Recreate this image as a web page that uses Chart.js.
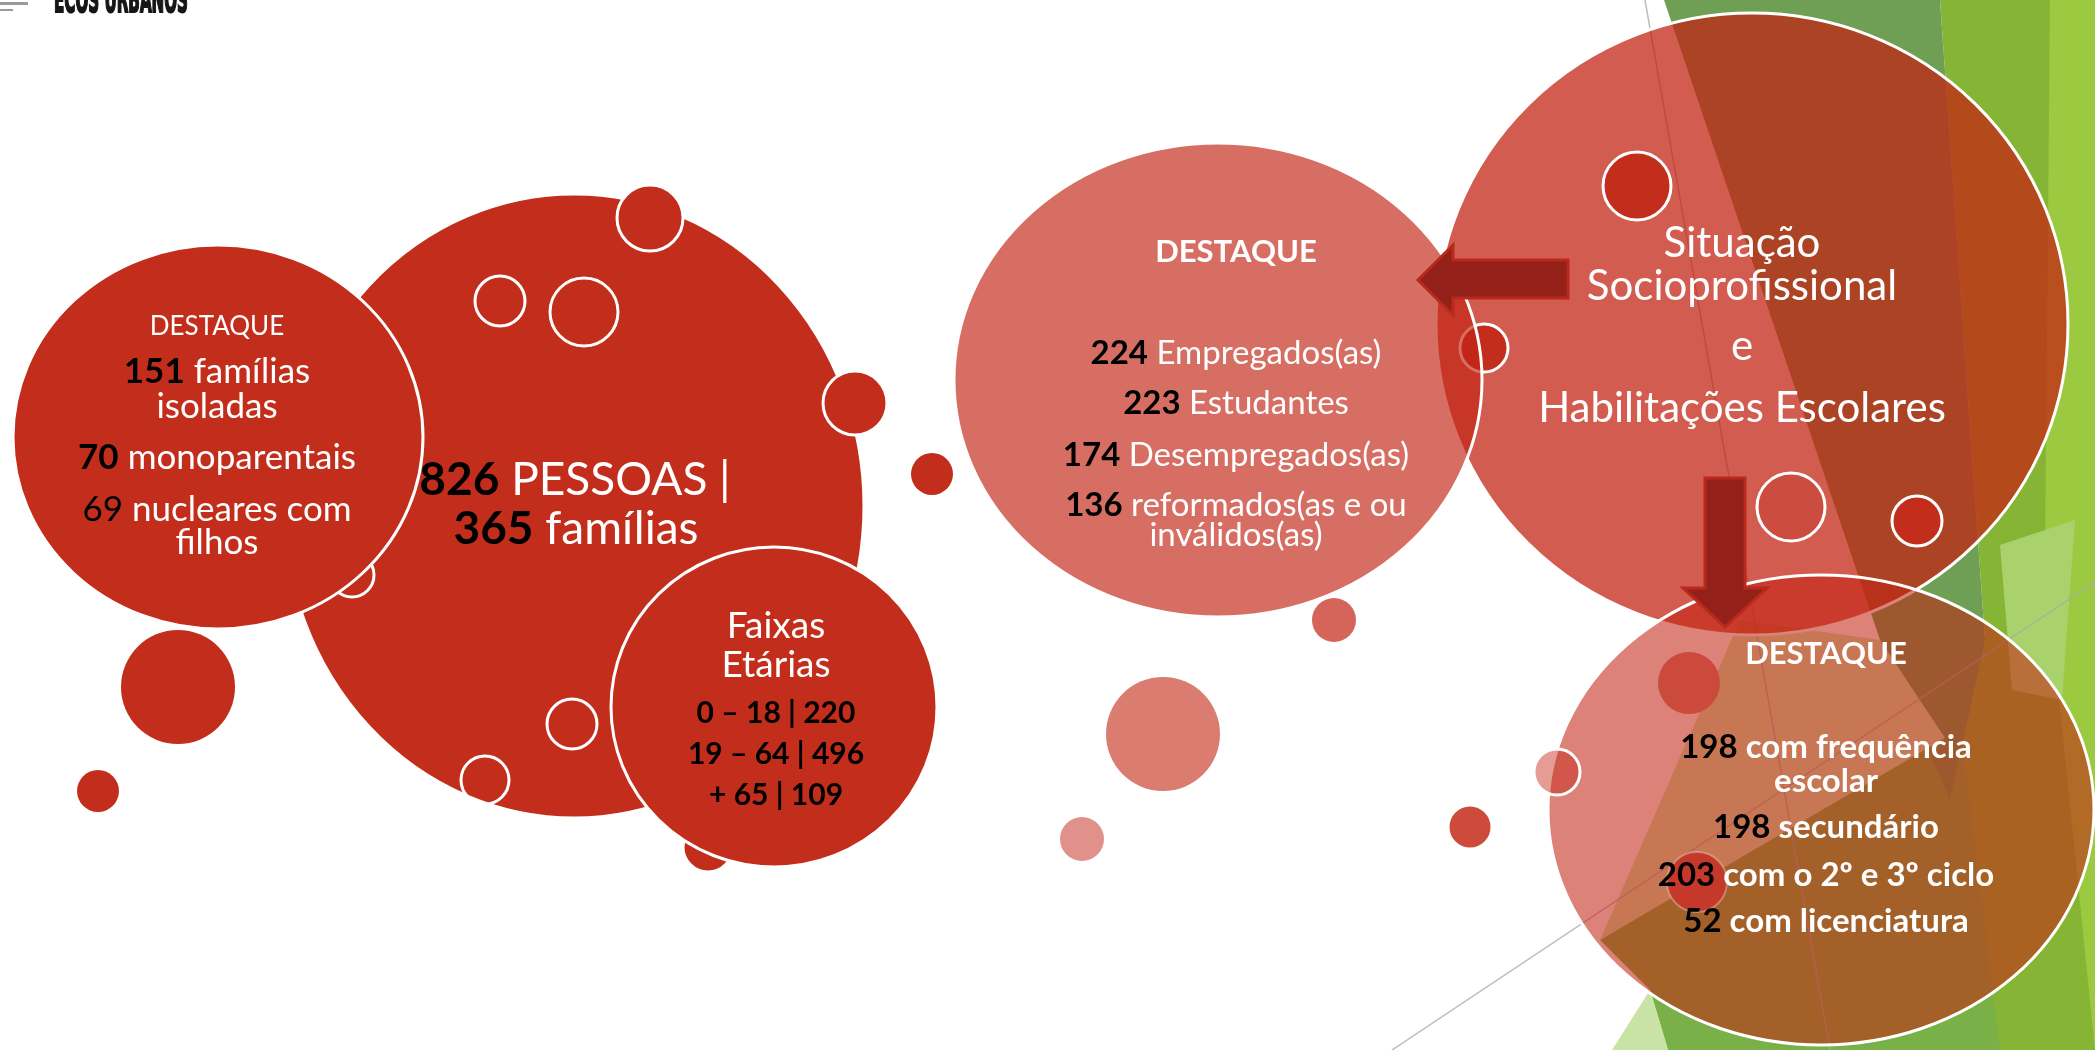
<!DOCTYPE html>
<html lang="pt">
<head>
<meta charset="utf-8">
<title>Ecos Urbanos — Destaques</title>
<script src="https://cdn.jsdelivr.net/npm/chart.js@4.4.1/dist/chart.umd.min.js"></script>
<style>
  html, body { margin: 0; padding: 0; background: #ffffff; overflow: hidden; }
  canvas { display: block; }
</style>
</head>
<body>
<canvas id="painel" width="2095" height="1050"></canvas>
<script>
/* global Chart */

// Dados do diapositivo
const familiasValores = [151, 70, 69];
const familiasRotulos = [['famílias', 'isoladas'], ['monoparentais'], ['nucleares com', 'filhos']];
const totalPessoas    = 826;
const totalFamilias   = 365;
const faixasRotulos   = ['0 – 18', '19 – 64', '+ 65'];
const faixasValores   = [220, 496, 109];
const situacaoValores = [224, 223, 174, 136];
const situacaoRotulos = [['Empregados(as)'], ['Estudantes'], ['Desempregados(as)'], ['reformados(as e ou', 'inválidos(as)']];
const escolarValores  = [198, 198, 203, 52];
const escolarRotulos  = [['com frequência', 'escolar'], ['secundário'], ['com o 2º e 3º ciclo'], ['com licenciatura']];
const tituloCentral   = ['Situação', 'Socioprofissional', 'e', 'Habilitações Escolares'];

const VERMELHO = '#C22E1B';
const BRANCO   = '#ffffff';
const PRETO    = '#000000';
const NADA     = 'rgba(0,0,0,0)';
const FONTE    = "Lato, 'Open Sans', sans-serif";

// Bolhas grandes (elipses), em px do diapositivo
const grandes = {
  pessoas:  { x: 574,  y: 506, r: 290, ry: 312, cor: VERMELHO },
  familias: { x: 218,  y: 437, r: 205, ry: 192, cor: VERMELHO },
  faixas:   { x: 774,  y: 707, r: 163, ry: 160, cor: VERMELHO },
  titulo:   { x: 1752, y: 324, r: 316, ry: 311, cor: 'rgba(195,35,20,0.74)' },
  situacao: { x: 1218, y: 380, r: 264, ry: 237, cor: 'rgba(195,35,20,0.66)' },
  escolar:  { x: 1821, y: 810, r: 273, ry: 235, cor: 'rgba(195,35,20,0.57)' },
};

// Bolhas pequenas decorativas
const decoPessoas = [
  { x: 650, y: 218, r: 33, cor: VERMELHO },
  { x: 500, y: 301, r: 25, cor: NADA },
  { x: 584, y: 312, r: 34, cor: NADA },
  { x: 352, y: 575, r: 22, cor: NADA },
  { x: 855, y: 403, r: 32, cor: VERMELHO },
  { x: 572, y: 724, r: 25, cor: NADA },
  { x: 485, y: 780, r: 24, cor: NADA },
  { x: 708, y: 847, r: 25, cor: VERMELHO },
];
const decoSoltas = [
  { x: 178, y: 687, r: 57, cor: VERMELHO, bw: 0 },
  { x: 98,  y: 791, r: 21, cor: VERMELHO, bw: 0 },
  { x: 932, y: 474, r: 21, cor: VERMELHO, bw: 0 },
];
const decoTitulo = [
  { x: 1637, y: 186, r: 34, cor: VERMELHO },
  { x: 1791, y: 507, r: 34, cor: 'rgba(190,40,25,0.3)' },
  { x: 1917, y: 521, r: 25, cor: VERMELHO },
  { x: 1484, y: 348, r: 24, cor: VERMELHO },
  { x: 1334, y: 620, r: 22, cor: 'rgba(195,35,20,0.7)', bw: 0 },
];
const decoEscolar = [
  { x: 1689, y: 683, r: 31, cor: '#CB4A3C', bw: 0 },
  { x: 1697, y: 882, r: 30, cor: '#C5392A', borda: 'rgba(255,255,255,0.3)', bw: 2 },
  { x: 1557, y: 772, r: 23, cor: 'rgba(195,35,20,0.45)' },
  { x: 1163, y: 734, r: 57, cor: '#DA7C70', bw: 0 },
  { x: 1082, y: 839, r: 22, cor: '#E0918A', bw: 0 },
  { x: 1470, y: 827, r: 22, cor: '#CD4B3A' },
];

// Fundo facetado verde (tema) e linhas finas
const facetas = [
  { cor: '#86B535', pts: [[1940, 0], [2095, 0], [2095, 1050], [1668, 1050], [1985, 640]] },
  { cor: '#9BC940', pts: [[2050, 0], [2095, 0], [2095, 1050], [2045, 560]] },
  { cor: '#79B047', pts: [[1600, 940], [1960, 725], [2000, 1050], [1668, 1050], [1650, 990]] },
  { cor: '#6E9F55', pts: [[1664, 0], [1940, 0], [1985, 640], [1950, 800], [1880, 640]] },
  { cor: '#CBE6A8', pts: [[1740, 620], [1880, 640], [1945, 738], [1600, 940]] },
  { cor: '#C9E3A6', pts: [[1650, 990], [1668, 1050], [1612, 1050]] },
  { cor: '#A9D26C', pts: [[2000, 545], [2075, 520], [2062, 700], [2012, 690]] },
];
const linhasFinas = [[[1645, 0], [1830, 1050]], [[1392, 1050], [2095, 582]]];

// Setas (polígonos)
const setas = [
  [[1568, 260], [1453, 260], [1453, 245], [1418, 280], [1453, 315], [1453, 298], [1568, 298]],
  [[1705, 478], [1745, 478], [1745, 588], [1767, 588], [1725, 627], [1683, 588], [1705, 588]],
];

/** Converte uma lista de bolhas num dataset de bubble */
function camada(label, bolhas, elipse = false) {
  return {
    label,
    elipse,
    data:            bolhas.map(b => ({ x: b.x, y: b.y, r: b.r, ry: b.ry ?? b.r })),
    backgroundColor: bolhas.map(b => b.cor),
    borderColor:     bolhas.map(b => b.borda ?? BRANCO),
    borderWidth:     bolhas.map(b => b.bw ?? 3),
  };
}

const camadas = [
  camada('pessoas', [grandes.pessoas], true),
  camada('deco-pessoas', decoPessoas),
  camada('familias-faixas', [grandes.familias, grandes.faixas], true),
  camada('soltas', decoSoltas),
  camada('titulo', [grandes.titulo], true),
  camada('deco-titulo', decoTitulo),
  camada('situacao', [grandes.situacao], true),
  camada('escolar', [grandes.escolar], true),
  camada('deco-escolar', decoEscolar),
].map((d, i) => ({ ...d, order: -i }));  // primeira camada fica por baixo

function poligono(ctx, pts, sx, sy) {
  ctx.beginPath();
  pts.forEach(([x, y], i) => (i ? ctx.lineTo(sx(x), sy(y)) : ctx.moveTo(sx(x), sy(y))));
  ctx.closePath();
}

/** Escreve uma linha com partes de estilos diferentes, centrada em cx */
function linhaRica(ctx, cx, y, partes, tam) {
  const fonte = b => `${b ? 'bold ' : ''}${tam}px ${FONTE}`;
  const larg = partes.map(([t, b]) => { ctx.font = fonte(b); return ctx.measureText(t).width; });
  let x = cx - larg.reduce((a, w) => a + w, 0) / 2;
  partes.forEach(([t, b, cor], i) => {
    ctx.font = fonte(b);
    ctx.fillStyle = cor;
    ctx.fillText(t, x, y);
    x += larg[i];
  });
}

/** Lista "número + rótulo" com quebras de linha dadas pelos rótulos */
function listaDestaque(ctx, cx, valores, rotulos, bases, tam, numNegrito, txtNegrito) {
  valores.forEach((v, i) => {
    rotulos[i].forEach((linha, k) => {
      const partes = k === 0
        ? [[String(v), numNegrito[i], PRETO], [' ' + linha, txtNegrito, BRANCO]]
        : [[linha, txtNegrito, BRANCO]];
      linhaRica(ctx, cx, bases[i][k], partes, tam);
    });
  });
}

const fundo = {
  id: 'fundo',
  beforeDraw(chart) {
    const { ctx, width, height } = chart;
    const sx = v => chart.scales.x.getPixelForValue(v);
    const sy = v => chart.scales.y.getPixelForValue(v);
    ctx.save();
    ctx.fillStyle = BRANCO;
    ctx.fillRect(0, 0, width, height);
    facetas.forEach(f => { poligono(ctx, f.pts, sx, sy); ctx.fillStyle = f.cor; ctx.fill(); });
    ctx.strokeStyle = 'rgba(170,170,170,0.8)';
    ctx.lineWidth = 1.5;
    linhasFinas.forEach(([a, b]) => {
      ctx.beginPath();
      ctx.moveTo(sx(a[0]), sy(a[1]));
      ctx.lineTo(sx(b[0]), sy(b[1]));
      ctx.stroke();
    });
    // logotipo, cortado no topo
    ctx.fillStyle = '#9a9a9a';
    ctx.fillRect(0, 2, 28, 3);
    ctx.fillRect(0, 9, 13, 2);
    ctx.font = "bold 36px 'DejaVu Sans Condensed', 'Liberation Sans Narrow', sans-serif";
    const w = ctx.measureText('ECOS URBANOS').width;
    ctx.translate(54, 12);
    ctx.scale(134 / w, 1);
    ctx.fillStyle = '#161616';
    ctx.strokeStyle = '#161616';
    ctx.lineWidth = 2;
    ctx.fillText('ECOS URBANOS', 0, 0);
    ctx.strokeText('ECOS URBANOS', 0, 0);
    ctx.restore();
  },
};

// Desenha elipses para as bolhas grandes (posição vem dos elementos do Chart.js)
const elipses = {
  id: 'elipses',
  beforeDatasetDraw(chart, args) {
    const ds = chart.data.datasets[args.index];
    if (!ds.elipse) return;
    const ctx = chart.ctx;
    args.meta.data.forEach((el, i) => {
      const d = ds.data[i];
      const o = el.options;
      ctx.save();
      ctx.beginPath();
      ctx.ellipse(el.x, el.y, d.r, d.ry, 0, 0, Math.PI * 2);
      ctx.fillStyle = o.backgroundColor;
      ctx.fill();
      if (o.borderWidth) {
        ctx.lineWidth = o.borderWidth;
        ctx.strokeStyle = o.borderColor;
        ctx.stroke();
      }
      ctx.restore();
    });
    return false;
  },
};

const textos = {
  id: 'textos',
  afterDraw(chart) {
    const ctx = chart.ctx;
    const sx = v => chart.scales.x.getPixelForValue(v);
    const sy = v => chart.scales.y.getPixelForValue(v);
    ctx.save();

    setas.forEach(p => {
      poligono(ctx, p, sx, sy);
      ctx.fillStyle = '#93211A';
      ctx.fill();
      ctx.lineWidth = 3;
      ctx.strokeStyle = '#B9291C';
      ctx.stroke();
    });

    ctx.textAlign = 'left';
    ctx.textBaseline = 'alphabetic';

    // famílias
    linhaRica(ctx, sx(217), sy(335), [['DESTAQUE', false, BRANCO]], 26);
    listaDestaque(ctx, sx(217), familiasValores, familiasRotulos,
      [[383, 418], [469], [521, 554]].map(b => b.map(sy)), 35, [true, true, false], false);

    // total
    linhaRica(ctx, sx(575), sy(495), [[String(totalPessoas), true, PRETO], [' PESSOAS |', false, BRANCO]], 46);
    linhaRica(ctx, sx(576), sy(544), [[String(totalFamilias), true, PRETO], [' famílias', false, BRANCO]], 46);

    // faixas etárias
    linhaRica(ctx, sx(776), sy(638), [['Faixas', false, BRANCO]], 37);
    linhaRica(ctx, sx(776), sy(677), [['Etárias', false, BRANCO]], 37);
    [723, 764, 805].forEach((b, i) => {
      linhaRica(ctx, sx(776), sy(b), [[`${faixasRotulos[i]} | ${faixasValores[i]}`, true, PRETO]], 30);
    });

    // situação socioprofissional
    linhaRica(ctx, sx(1236), sy(262), [['DESTAQUE', true, BRANCO]], 31);
    listaDestaque(ctx, sx(1236), situacaoValores, situacaoRotulos,
      [[364], [414], [466], [516, 546]].map(b => b.map(sy)), 33, [true, true, true, true], false);

    // título
    [257, 300, 360, 422].forEach((b, i) => {
      linhaRica(ctx, sx(1742), sy(b), [[tituloCentral[i], false, BRANCO]], 42);
    });

    // habilitações
    linhaRica(ctx, sx(1826), sy(664), [['DESTAQUE', true, BRANCO]], 31);
    listaDestaque(ctx, sx(1826), escolarValores, escolarRotulos,
      [[758, 792], [838], [886], [932]].map(b => b.map(sy)), 33, [true, true, true, true], true);

    ctx.restore();
  },
};

new Chart(document.getElementById('painel'), {
  type: 'bubble',
  data: { datasets: camadas },
  options: {
    responsive: false,
    devicePixelRatio: 1,
    animation: false,
    events: [],
    layout: { padding: 0, autoPadding: false },  // sem margem automática das bolhas
    plugins: { legend: { display: false }, tooltip: { enabled: false } },
    scales: {
      x: { type: 'linear', min: 0, max: 2095, display: false },
      y: { type: 'linear', min: 0, max: 1050, reverse: true, display: false },
    },
  },
  plugins: [fundo, elipses, textos],
});
</script>
</body>
</html>
